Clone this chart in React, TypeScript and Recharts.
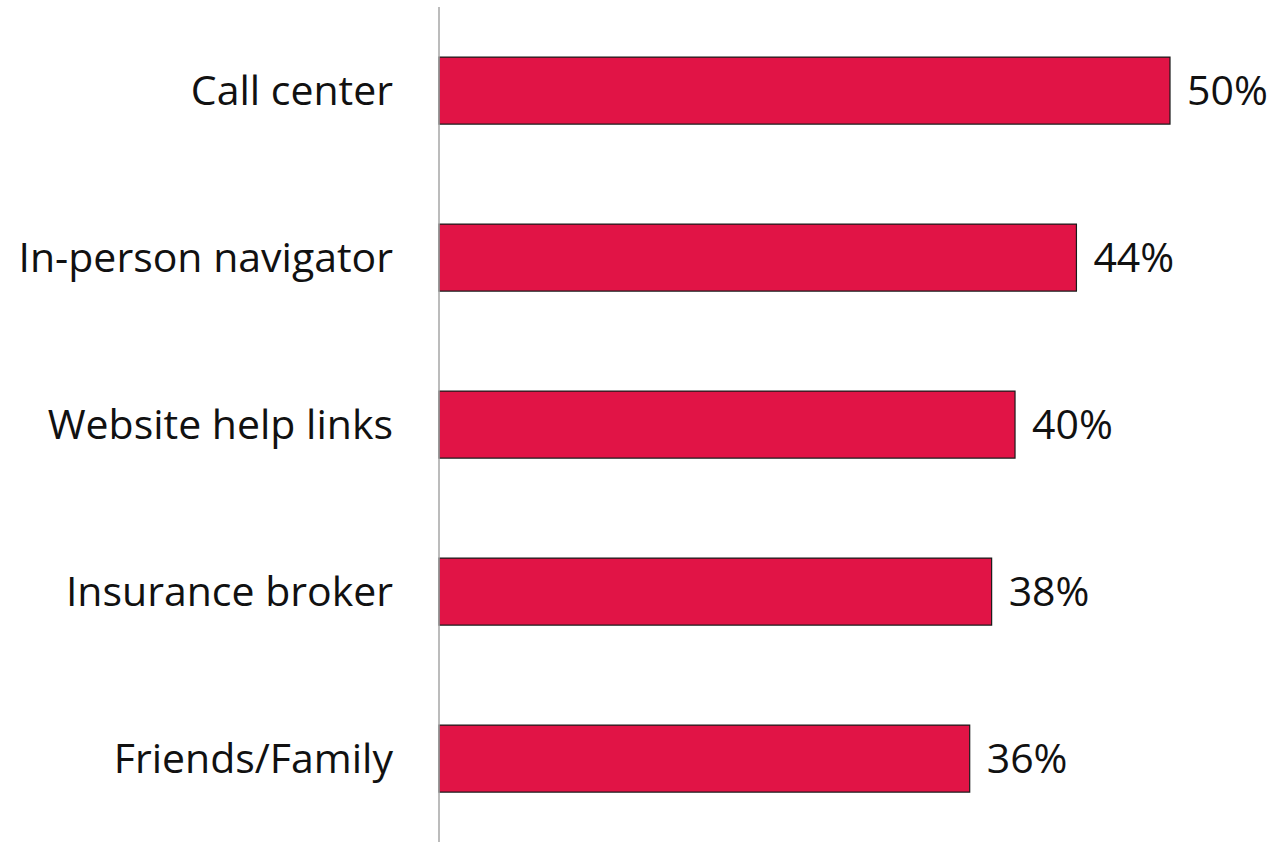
import { Bar, BarChart, LabelList, XAxis, YAxis } from 'recharts'

const categories = [
	'Call center',
	'In-person navigator',
	'Website help links',
	'Insurance broker',
	'Friends/Family'
]
// bar lengths as measured; labels are the rounded figures printed on the chart
const shares = [50, 43.6, 39.4, 37.8, 36.3]
const shareLabels = ['50%', '44%', '40%', '38%', '36%']

const data = categories.map((name, i) => ({
	name,
	value: shares[i],
	label: shareLabels[i]
}))

const FONT = '"Open Sans", sans-serif'

export default function App() {
	return (
		<div style={{ position: 'absolute', left: 0, top: 0, background: '#fff' }}>
			<BarChart
				width={1285}
				height={842}
				data={data}
				layout='vertical'
				margin={{ top: 7, right: 115, bottom: 0, left: 0 }}
				barCategoryGap='30%'
			>
				<XAxis type='number' domain={[0, 50]} hide />
				<YAxis
					type='category'
					dataKey='name'
					width={439}
					tickLine={false}
					tickSize={0}
					tickMargin={46}
					axisLine={{ stroke: '#a6a6a6', strokeWidth: 1.5 }}
					tick={{ fill: '#111', fontSize: 41, fontFamily: FONT }}
				/>
				<Bar
					dataKey='value'
					fill='#e11446'
					stroke='#1a1a1a'
					strokeWidth={1.2}
					isAnimationActive={false}
				>
					<LabelList
						dataKey='label'
						position='right'
						offset={17}
						style={{ fill: '#111', fontSize: 41, fontFamily: FONT }}
					/>
				</Bar>
			</BarChart>
		</div>
	)
}
